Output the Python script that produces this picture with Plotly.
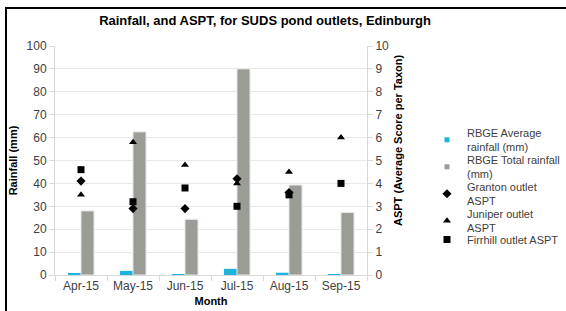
import plotly.graph_objects as go

months = ["Apr-15", "May-15", "Jun-15", "Jul-15", "Aug-15", "Sep-15"]
avg_rain = [0.5, 1.8, 0.4, 2.7, 1.0, 0.4]
total_rain = [28.0, 62.5, 24.3, 90.0, 39.3, 27.3]
granton = [4.1, 2.9, 2.9, 4.2, 3.6, None]
juniper = [3.5, 5.8, 4.8, 4.0, 4.5, 6.0]
firrhill = [4.6, 3.2, 3.8, 3.0, 3.5, 4.0]

FONT = "Liberation Sans, Arial, sans-serif"
BLUE = "#1FB4DC"
GREY = "#999D95"

L, R, T, B = 55, 367, 46, 275
W, H = 566, 311
pw, ph = R - L, B - T

def px_x(x):
    return (x - L) / pw

def px_y(y):
    return (B - y) / ph

# first text line centre of each legend item (px)
first_lines = [133, 160, 187, 214, 240]
two_line = [True, True, True, True, False]

fig = go.Figure()
fig.add_trace(go.Bar(x=months, y=avg_rain, name="RBGE Average<br>rainfall (mm)", showlegend=False,
                     marker=dict(color=BLUE, line=dict(width=0))))
fig.add_trace(go.Bar(x=months, y=total_rain, name="RBGE Total rainfall<br>(mm)", showlegend=False,
                     marker=dict(color=GREY, line=dict(color="#E6E6E6", width=1))))
# legend keys for the bar series (small square keys as in the reference)
fig.add_trace(go.Scatter(x=[None], y=[None], name="RBGE Average<br>rainfall (mm)", mode="markers",
                         legend="legend", marker=dict(symbol="square", size=5, color=BLUE)))
fig.add_trace(go.Scatter(x=[None], y=[None], name="RBGE Total rainfall<br>(mm)", mode="markers",
                         legend="legend2", marker=dict(symbol="square", size=5, color=GREY)))
fig.add_trace(go.Scatter(x=months, y=granton, name="Granton outlet<br>ASPT", mode="markers", legend="legend3",
                         yaxis="y2", marker=dict(symbol="diamond", size=7, color="black")))
fig.add_trace(go.Scatter(x=months, y=juniper, name="Juniper outlet<br>ASPT", mode="markers", legend="legend4",
                         yaxis="y2", marker=dict(symbol="triangle-up", size=7, color="black")))
fig.add_trace(go.Scatter(x=months, y=firrhill, name="Firrhill outlet ASPT", mode="markers", legend="legend5",
                         yaxis="y2", marker=dict(symbol="square", size=7, color="black")))

def leg(line, two):
    top = line - (14 if two else 15)
    return dict(x=px_x(427), y=px_y(top), xanchor="left", yanchor="top",
                font=dict(size=11, color="#404040", family=FONT), bgcolor="rgba(0,0,0,0)",
                itemwidth=30, tracegroupgap=0, borderwidth=0, itemsizing="trace")

fig.update_layout(
    width=W, height=H,
    margin=dict(l=L, r=W - R, t=T, b=H - B, pad=0, autoexpand=False),
    paper_bgcolor="white", plot_bgcolor="white",
    font=dict(family=FONT, size=12, color="#404040"),
    barmode="group", bargap=0.5, bargroupgap=0.0,
    title=dict(text="<b>Rainfall, and ASPT, for SUDS pond outlets, Edinburgh</b>",
               x=265 / W, xanchor="center", y=1 - 20 / H, yanchor="middle",
               font=dict(size=13, color="black", family=FONT)),
    xaxis=dict(type="category", showgrid=False, showline=True, linecolor="#D9D9D9",
               ticks="outside", tickson="boundaries", ticklen=5, tickcolor="#D9D9D9",
               tickfont=dict(size=12, color="#404040"), automargin=False,
               title=dict(text="<b>Month</b>", font=dict(size=11, color="black"), standoff=4)),
    yaxis=dict(range=[0, 100], dtick=10, showgrid=True, gridcolor="#E8E8E8",
               showline=True, linecolor="#D9D9D9", ticks="outside", ticklen=5,
               tickcolor="#D9D9D9", zeroline=False, automargin=False,
               tickfont=dict(size=12, color="#404040"),
               title=dict(text="<b>Rainfall (mm)</b>", font=dict(size=11, color="black"), standoff=6)),
    yaxis2=dict(range=[0, 10], dtick=1, overlaying="y", side="right", showgrid=False,
                showline=True, linecolor="#D9D9D9", ticks="outside", ticklen=5,
                tickcolor="#D9D9D9", zeroline=False, automargin=False,
                tickfont=dict(size=12, color="#404040")),
    legend=leg(first_lines[0], two_line[0]),
    legend2=leg(first_lines[1], two_line[1]),
    legend3=leg(first_lines[2], two_line[2]),
    legend4=leg(first_lines[3], two_line[3]),
    legend5=leg(first_lines[4], two_line[4]),
    showlegend=True,
)

# secondary axis title (placed as in the reference, slightly above the plot centre)
fig.add_annotation(text="<b>ASPT (Average Score per Taxon)</b>", textangle=-90,
                   xref="paper", yref="paper", x=px_x(398), y=px_y(141),
                   xanchor="center", yanchor="middle", showarrow=False,
                   font=dict(size=11, color="black", family=FONT))

fig.add_shape(type="rect", xref="paper", yref="paper",
              x0=px_x(6), x1=px_x(W + 20), y0=px_y(H + 20), y1=px_y(8),
              line=dict(color="black", width=2), fillcolor="rgba(0,0,0,0)", layer="above")

fig.write_html("out.html", config={"displayModeBar": False},
               post_script="document.body.style.margin='0';document.body.style.overflow='hidden';")
